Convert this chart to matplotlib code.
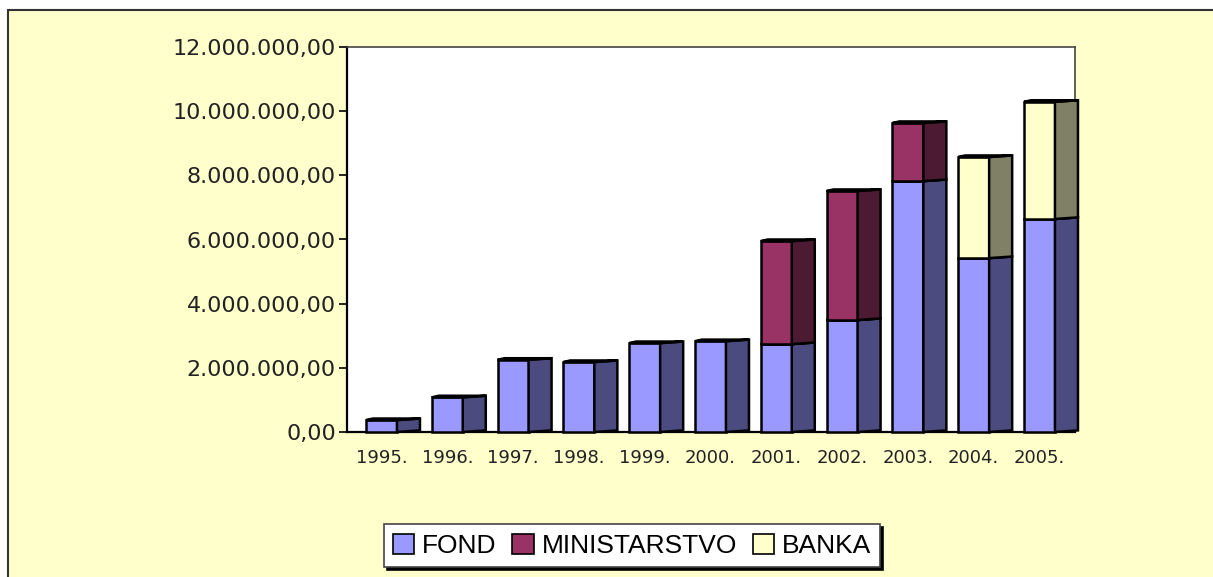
import numpy as np
import matplotlib
matplotlib.use("Agg")
from matplotlib import pyplot as plt
from matplotlib.patches import Polygon, Rectangle, Patch
from matplotlib.ticker import FuncFormatter

years = ["1995.", "1996.", "1997.", "1998.", "1999.", "2000.",
         "2001.", "2002.", "2003.", "2004.", "2005."]
fond = [370000, 1080000, 2250000, 2180000, 2770000, 2830000,
        2740000, 3490000, 7820000, 5420000, 6640000]
ministarstvo = [0, 0, 0, 0, 0, 0, 3210000, 4020000, 1810000, 0, 0]
banka = [0, 0, 0, 0, 0, 0, 0, 0, 0, 3150000, 3650000]

series = [("FOND", fond, "#9999FF", "#4B4B80"),
          ("MINISTARSTVO", ministarstvo, "#993366", "#4D1A33"),
          ("BANKA", banka, "#FFFFCC", "#808066")]

W = 1213 / 100
H = 577 / 100
fig = plt.figure(figsize=(W, H), dpi=100, facecolor="white")

# outer chart area frame
fig.patches.append(Rectangle((8 / 1213, -0.1), 1.2, 1 - 10 / 577 + 0.1,
                             transform=fig.transFigure, facecolor="#FFFFCC",
                             edgecolor="#333333", linewidth=1.5, zorder=-5))

ax = fig.add_axes([347 / 1213, 1 - 432 / 577, 728 / 1213, 385 / 577])
ax.set_zorder(2)
ax.set_facecolor("white")

front_w = 0.47   # front face width
depth = 0.35     # side face depth
rise = 50000     # slight perspective rise of the side face

x = np.arange(len(years))
bottom = np.zeros(len(years))
for name, vals, c_front, c_side in series:
    vals = np.array(vals, dtype=float)
    for i in range(len(years)):
        if vals[i] <= 0:
            continue
        b = bottom[i]
        t = b + vals[i]
        ax.add_patch(Rectangle((x[i], b), front_w, vals[i], facecolor=c_front,
                               edgecolor="black", linewidth=1.8, clip_on=False,
                               zorder=3))
        side = [(x[i] + front_w, b), (x[i] + front_w + depth, b + rise),
                (x[i] + front_w + depth, t + rise), (x[i] + front_w, t)]
        ax.add_patch(Polygon(side, closed=True, facecolor=c_side,
                             edgecolor="black", linewidth=1.8, clip_on=False,
                             zorder=3))
        top = [(x[i], t), (x[i] + front_w, t),
               (x[i] + front_w + depth, t + rise), (x[i] + depth * 0.3, t + rise)]
        ax.add_patch(Polygon(top, closed=True, facecolor=c_front,
                             edgecolor="black", linewidth=1.8, clip_on=False,
                             zorder=3))
    bottom += vals

xmin = -0.289
ax.set_xlim(xmin, xmin + 728 / 65.8)
ax.set_ylim(0, 12000000)

ax.set_xticks(x + front_w / 2)
ax.set_xticklabels(years, fontsize=13, family="DejaVu Sans", color="#222222")
ax.tick_params(axis="x", length=0, pad=12)

ax.set_yticks(np.arange(0, 12000001, 2000000))
ax.yaxis.set_major_formatter(FuncFormatter(
    lambda v, p: f"{v:,.2f}".replace(",", " ").replace(".", ",").replace(" ", ".")))
ax.tick_params(axis="y", length=6, width=1.2, labelsize=16, pad=2,
               direction="out", colors="black")
for lab in ax.get_yticklabels():
    lab.set_family("DejaVu Sans")
    lab.set_color("#222222")

ax.spines["left"].set_color("black")
ax.spines["left"].set_linewidth(1.6)
ax.spines["bottom"].set_color("black")
ax.spines["bottom"].set_linewidth(1.6)
ax.spines["top"].set_color("#444444")
ax.spines["top"].set_linewidth(1.2)
ax.spines["right"].set_color("#444444")
ax.spines["right"].set_linewidth(1.2)

handles = [Patch(facecolor=c, edgecolor="black", linewidth=1.2, label=n)
           for n, _, c, _ in series]
leg = fig.legend(handles=handles, loc="center", bbox_to_anchor=(0.521, 0.054),
                 ncol=3, frameon=True, fancybox=False, shadow={"color": "black", "alpha": 1},
                 edgecolor="#444444", facecolor="white", handlelength=0.8,
                 handleheight=0.8, handletextpad=0.3, columnspacing=0.6,
                 borderpad=0.35, prop={"family": "Liberation Sans", "size": 19})
leg.get_frame().set_linewidth(1.2)
leg.set_zorder(5)

fig.savefig("out.png", dpi=100, facecolor=fig.get_facecolor())
